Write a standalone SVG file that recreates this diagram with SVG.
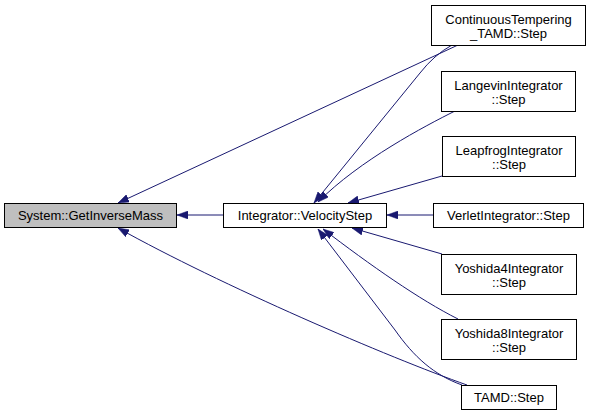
<svg xmlns="http://www.w3.org/2000/svg" width="591" height="417" viewBox="0 0 591 417">
<defs>
<marker id="ah" markerUnits="userSpaceOnUse" viewBox="0 0 11 8" markerWidth="11" markerHeight="8" refX="11" refY="4" orient="auto">
<path d="M0,0 L11,4 L0,8 z" fill="#191970" stroke="#191970" stroke-width="0.5"/>
</marker>
<style>
.n rect{fill:#ffffff;stroke:#000000;stroke-width:1}
.n.hl rect{fill:#bfbfbf}
.n text{font-family:"Liberation Sans",Arial,Helvetica,sans-serif;font-size:13px;text-anchor:middle;fill:#000000}
.e path{fill:none;stroke:#191970;stroke-width:1;marker-end:url(#ah)}
</style>
</defs>
<rect width="591" height="417" fill="#ffffff"/>
<g id="edges" class="e">
<path d="M223,215 L177,215"/>
<path d="M433,215 L387,215"/>
<path d="M458,45 L118,203"/>
<path d="M452,45 Q434,55 420,73 L314,203"/>
<path d="M455,111 C425,126 360,160 318,202"/>
<path d="M442,176 L348,203"/>
<path d="M442,254 L352,228"/>
<path d="M458,319 C420,300 370,265 323,229"/>
<path d="M462,385 C434,375 414,357 395,330 L318,229"/>
<path d="M467,385 C390,358 220,285 118,228"/>
</g>
<g id="node-GetInverseMass" class="n hl">
<rect x="4.5" y="203.5" width="172" height="24"/>
<text x="90.5" y="219.5">System::GetInverseMass</text>
</g>
<g id="node-VelocityStep" class="n">
<rect x="223.5" y="203.5" width="163" height="24"/>
<text x="305" y="219.5">Integrator::VelocityStep</text>
</g>
<g id="node-ContinuousTempering" class="n">
<rect x="431.5" y="5.5" width="154" height="40"/>
<text x="508.5" y="23.5">ContinuousTempering</text>
<text x="508.5" y="37.5">_TAMD::Step</text>
</g>
<g id="node-Langevin" class="n">
<rect x="441.5" y="71.5" width="134" height="40"/>
<text x="508.5" y="89.5">LangevinIntegrator</text>
<text x="508.5" y="103.5">::Step</text>
</g>
<g id="node-Leapfrog" class="n">
<rect x="442.5" y="136.5" width="133" height="40"/>
<text x="509" y="154.5">LeapfrogIntegrator</text>
<text x="509" y="168.5">::Step</text>
</g>
<g id="node-Verlet" class="n">
<rect x="433.5" y="203.5" width="150" height="24"/>
<text x="508.5" y="219.5">VerletIntegrator::Step</text>
</g>
<g id="node-Yoshida4" class="n">
<rect x="441.5" y="254.5" width="135" height="40"/>
<text x="509" y="272.5">Yoshida4Integrator</text>
<text x="509" y="286.5">::Step</text>
</g>
<g id="node-Yoshida8" class="n">
<rect x="441.5" y="319.5" width="135" height="40"/>
<text x="509" y="337.5">Yoshida8Integrator</text>
<text x="509" y="351.5">::Step</text>
</g>
<g id="node-TAMD" class="n">
<rect x="461.5" y="385.5" width="95" height="24"/>
<text x="509" y="401.5">TAMD::Step</text>
</g>
</svg>
